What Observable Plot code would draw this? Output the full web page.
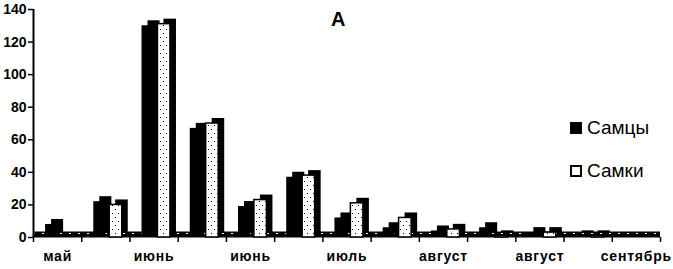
<!DOCTYPE html>
<html>
<head>
<meta charset="utf-8">
<script src="https://cdn.jsdelivr.net/npm/d3@7"></script>
<script src="https://cdn.jsdelivr.net/npm/@observablehq/plot@0.6"></script>
<style>
  body { margin: 0; background: #fff; }
  #wrap { position: relative; width: 673px; height: 269px; font-family: "Liberation Sans", Arial, sans-serif; }
  .title { position: absolute; left: 331px; top: 8px; font-weight: bold; font-size: 20px; }
  .leg { position: absolute; left: 570px; font-size: 19px; display: flex; align-items: center; gap: 5px; }
  .sw { width: 12px; height: 12px; box-sizing: border-box; border: 2px solid #000; }
  g[aria-label="x-axis tick label"] text { letter-spacing: 0.8px; }
</style>
</head>
<body>
<div id="wrap">
  <div class="title">A</div>
  <div class="leg" style="top:117px"><div class="sw" style="background:#000"></div><span>Самцы</span></div>
  <div class="leg" style="top:160px"><div class="sw" style="background:#fff"></div><span>Самки</span></div>
</div>
<script>
// 13 half-month periods; labels shown on every other one
const categories = ["май", "", "июнь", "", "июнь", "", "июль", "", "август", "", "август", "", "сентябрь"];
const males   = [8, 22, 130, 67, 19, 37, 12, 6, 4, 6, 3, 1, 0];
const females = [0, 20, 131, 70, 23, 38, 21, 12, 5, 1, 3, 1, 0];
const yTicks = [0, 20, 40, 60, 80, 100, 120, 140];

const maleRows = males.map((v, i) => ({i, v}));
const femaleRows = females.map((v, i) => ({i, v}));

const mx1 = d => d.i + 0.25, mx2 = d => d.i + 0.5;
const fx1 = d => d.i + 0.58, fx2 = d => d.i + 0.84;

const chart = Plot.plot({
  width: 673,
  height: 269,
  marginLeft: 33,
  marginRight: 13,
  marginTop: 9,
  marginBottom: 32,
  style: {fontFamily: "'Liberation Sans', Arial, sans-serif", background: "transparent"},
  x: {type: "linear", domain: [0, categories.length], axis: null, label: null},
  y: {domain: [0, 140], axis: null, label: null},
  marks: [
    // 3D floor
    Plot.ruleY([0], {stroke: "#000", strokeWidth: 6, dy: -3}),
    Plot.ruleY([0], {stroke: "#fff", strokeWidth: 1.2, strokeDasharray: "2,7", dy: -4}),
    // males
    Plot.rectY(maleRows, {x1: mx1, x2: mx2, y: "v", fill: "#000", dx: 6, dy: -5}),
    Plot.rectY(maleRows, {x1: mx1, x2: mx2, y: "v", fill: "#000"}),
    // females
    Plot.rectY(femaleRows, {x1: fx1, x2: fx2, y: "v", fill: "#000", dx: 6, dy: -5}),
    Plot.rectY(femaleRows.filter(d => d.v > 0), {x1: fx1, x2: fx2, y: "v", fill: "url(#dots)", stroke: "#000", strokeWidth: 1.5}),
    // axes
    Plot.ruleX([0], {y1: 0, y2: 140, stroke: "#000", strokeWidth: 2}),
    Plot.axisY({ticks: yTicks, label: null, tickSize: 5, tickPadding: 2, fontSize: 14, fontWeight: "bold", stroke: "#000", strokeWidth: 1.5}),
    Plot.axisX({ticks: d3.range(categories.length + 1), label: null, tickSize: 5, tickFormat: () => "", stroke: "#000", strokeWidth: 1.5}),
    Plot.axisX({ticks: categories.map((c, i) => i + 0.5), label: null, tickSize: 0, tickPadding: 14,
      tickFormat: d => categories[Math.floor(d)], fontSize: 14, fontWeight: "bold"})
  ]
});

// dotted pattern for the female bars
const ns = "http://www.w3.org/2000/svg";
const defs = document.createElementNS(ns, "defs");
defs.innerHTML = `<pattern id="dots" width="6" height="8" patternUnits="userSpaceOnUse">
  <rect width="6" height="8" fill="#fff"/>
  <rect x="1" y="1" width="1" height="1" fill="#000"/>
  <rect x="4" y="5" width="1" height="1" fill="#000"/>
</pattern>`;
chart.insertBefore(defs, chart.firstChild);

document.getElementById("wrap").prepend(chart);
</script>
</body>
</html>
